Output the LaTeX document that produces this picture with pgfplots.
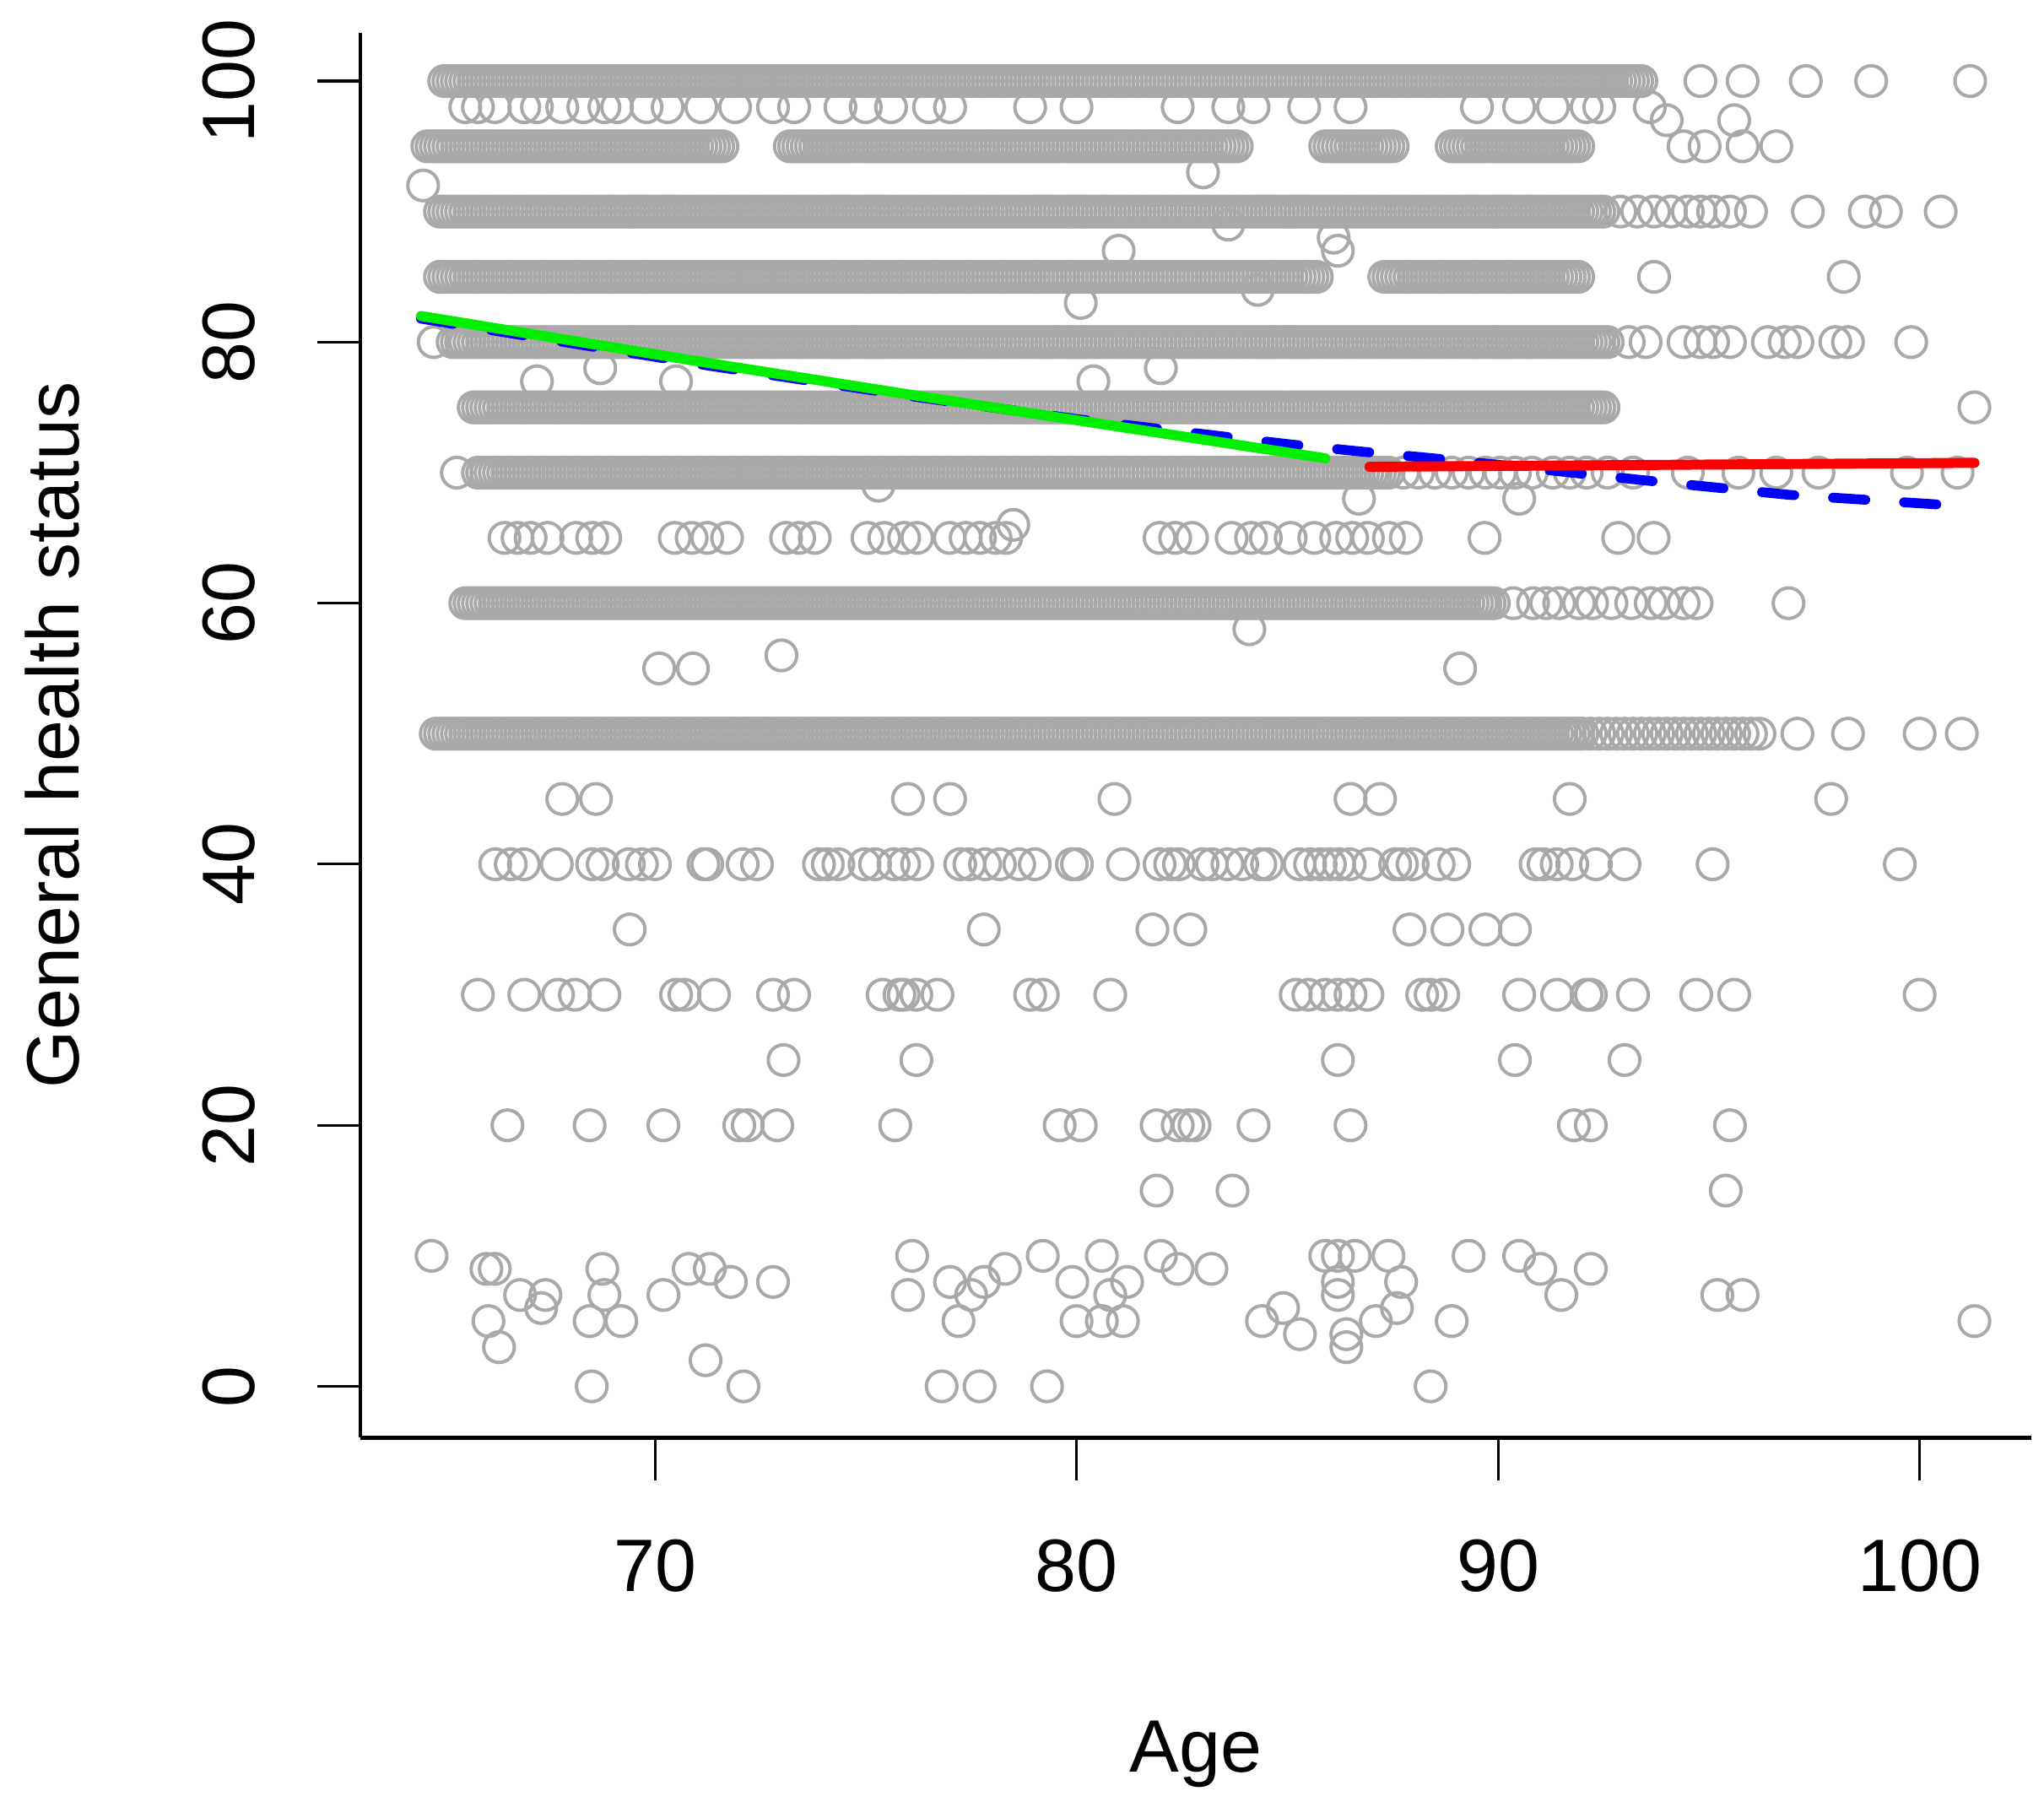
\documentclass[border=0pt]{standalone}
\usepackage{fontspec}
\setmainfont{Liberation Sans}
\usepackage{pgfplots}
\pgfplotsset{compat=1.18}
\definecolor{ptgray}{RGB}{169,169,169}
\definecolor{lgreen}{RGB}{0,240,0}
\begin{document}
\begin{tikzpicture}
\path[use as bounding box] (-82.5pt,-83.4pt) rectangle (385.5pt,329.1pt);
\begin{axis}[
  at={(0,0)}, anchor=south west,
  scale only axis, width=382.5pt, height=321.6pt,
  xmin=63.01, xmax=102.64, ymin=-3.92, ymax=103.7,
  clip marker paths=true,
  axis x line*=bottom, axis y line*=left,
  axis line style={line width=0.9pt, black},
  xtick={70,80,90,100}, ytick={0,20,40,60,80,100},
  tick align=outside, major tick length=9.9pt,
  tick style={line width=0.6pt, black},
  /pgf/number format/assume math mode=true,
  tick label style={font=\fontsize{17}{20}\selectfont},
  label style={font=\fontsize{17}{20}\selectfont},
  xticklabel style={anchor=base, yshift=-25.35pt},
  yticklabel style={rotate=90, anchor=base, yshift=14.25pt},
  xlabel={Age}, ylabel={General health status},
  xlabel style={at={(axis description cs:0.5,0)}, anchor=base, yshift=-76.5pt},
  ylabel style={at={(axis description cs:0,0.5)}, anchor=base, yshift=64.35pt},
  pts/.style={only marks, mark=o, mark size=3.5pt, color=ptgray, mark options={line width=0.77pt}},
]
% row 100
\addplot[pts] coordinates {
(65.0,100)(65.1,100)(65.2,100)(65.3,100)(65.4,100)(65.5,100)(65.6,100)(65.7,100)(65.8,100)(65.9,100)
(66.0,100)(66.1,100)(66.2,100)(66.3,100)(66.4,100)(66.5,100)(66.6,100)(66.7,100)(66.8,100)(66.9,100)
(67.0,100)(67.1,100)(67.2,100)(67.3,100)(67.4,100)(67.5,100)(67.6,100)(67.7,100)(67.8,100)(67.9,100)
(68.0,100)(68.1,100)(68.2,100)(68.3,100)(68.4,100)(68.5,100)(68.6,100)(68.7,100)(68.8,100)(68.9,100)
(69.0,100)(69.1,100)(69.2,100)(69.3,100)(69.4,100)(69.5,100)(69.6,100)(69.7,100)(69.8,100)(69.9,100)
(70.0,100)(70.1,100)(70.2,100)(70.3,100)(70.4,100)(70.5,100)(70.6,100)(70.7,100)(70.8,100)(70.9,100)
(71.0,100)(71.1,100)(71.2,100)(71.3,100)(71.4,100)(71.5,100)(71.6,100)(71.7,100)(71.8,100)(71.9,100)
(72.0,100)(72.1,100)(72.2,100)(72.3,100)(72.4,100)(72.5,100)(72.6,100)(72.7,100)(72.8,100)(72.9,100)
(73.0,100)(73.1,100)(73.2,100)(73.3,100)(73.4,100)(73.5,100)(73.6,100)(73.7,100)(73.8,100)(73.9,100)
(74.0,100)(74.1,100)(74.2,100)(74.3,100)(74.4,100)(74.5,100)(74.6,100)(74.7,100)(74.8,100)(74.9,100)
(75.0,100)(75.1,100)(75.2,100)(75.3,100)(75.4,100)(75.5,100)(75.6,100)(75.7,100)(75.8,100)(75.9,100)
(76.0,100)(76.1,100)(76.2,100)(76.3,100)(76.4,100)(76.5,100)(76.6,100)(76.7,100)(76.8,100)(76.9,100)
(77.0,100)(77.1,100)(77.2,100)(77.3,100)(77.4,100)(77.5,100)(77.6,100)(77.7,100)(77.8,100)(77.9,100)
(78.0,100)(78.1,100)(78.2,100)(78.3,100)(78.4,100)(78.5,100)(78.6,100)(78.7,100)(78.8,100)(78.9,100)
(79.0,100)(79.1,100)(79.2,100)(79.3,100)(79.4,100)(79.5,100)(79.6,100)(79.7,100)(79.8,100)(79.9,100)
(80.0,100)(80.1,100)(80.2,100)(80.3,100)(80.4,100)(80.5,100)(80.6,100)(80.7,100)(80.8,100)(80.9,100)
(81.0,100)(81.1,100)(81.2,100)(81.3,100)(81.4,100)(81.5,100)(81.6,100)(81.7,100)(81.8,100)(81.9,100)
(82.0,100)(82.1,100)(82.2,100)(82.3,100)(82.4,100)(82.5,100)(82.6,100)(82.7,100)(82.8,100)(82.9,100)
(83.0,100)(83.1,100)(83.2,100)(83.3,100)(83.4,100)(83.5,100)(83.6,100)(83.7,100)(83.8,100)(83.9,100)
(84.0,100)(84.1,100)(84.2,100)(84.3,100)(84.4,100)(84.5,100)(84.6,100)(84.7,100)(84.8,100)(84.9,100)
(85.0,100)(85.1,100)(85.2,100)(85.3,100)(85.4,100)(85.5,100)(85.6,100)(85.7,100)(85.8,100)(85.9,100)
(86.0,100)(86.1,100)(86.2,100)(86.3,100)(86.4,100)(86.5,100)(86.6,100)(86.7,100)(86.8,100)(86.9,100)
(87.0,100)(87.1,100)(87.2,100)(87.3,100)(87.4,100)(87.5,100)(87.6,100)(87.7,100)(87.8,100)(87.9,100)
(88.0,100)(88.1,100)(88.2,100)(88.3,100)(88.4,100)(88.5,100)(88.6,100)(88.7,100)(88.8,100)(88.9,100)
(89.0,100)(89.1,100)(89.2,100)(89.3,100)(89.4,100)(89.5,100)(89.6,100)(89.7,100)(89.8,100)(89.9,100)
(90.0,100)(90.1,100)(90.2,100)(90.3,100)(90.4,100)(90.5,100)(90.6,100)(90.7,100)(90.8,100)(90.9,100)
(91.0,100)(91.1,100)(91.2,100)(91.3,100)(91.4,100)(91.5,100)(91.6,100)(91.7,100)(91.8,100)(91.9,100)
(92.0,100)(92.1,100)(92.2,100)(92.3,100)(92.4,100)(92.5,100)(92.6,100)(92.7,100)(92.8,100)(92.9,100)
(93.0,100)(93.1,100)(93.2,100)(93.3,100)(93.4,100)
(94.8,100)(95.8,100)(97.3,100)(98.85,100)(101.2,100)
(65.5,98)(65.8,98)(66.2,98)(66.9,98)(67.2,98)(67.8,98)(68.3,98)(68.8,98)(69.1,98)(69.8,98)
(70.3,98)(71.1,98)(71.9,98)(72.8,98)(73.3,98)(74.4,98)(75.0,98)(75.6,98)(76.5,98)(77.0,98)
(78.9,98)(80.0,98)(82.4,98)(83.6,98)(84.2,98)(85.4,98)(86.5,98)(89.5,98)(90.5,98)(91.3,98)
(92.1,98)(92.4,98)(93.6,98)(94.0,97)(95.6,97)
};
% row 95
\addplot[pts] coordinates {
(64.6,95)(64.7,95)(64.8,95)(64.9,95)
(65.0,95)(65.1,95)(65.2,95)(65.3,95)(65.4,95)(65.5,95)(65.6,95)(65.7,95)(65.8,95)(65.9,95)
(66.0,95)(66.1,95)(66.2,95)(66.3,95)(66.4,95)(66.5,95)(66.6,95)(66.7,95)(66.8,95)(66.9,95)
(67.0,95)(67.1,95)(67.2,95)(67.3,95)(67.4,95)(67.5,95)(67.6,95)(67.7,95)(67.8,95)(67.9,95)
(68.0,95)(68.1,95)(68.2,95)(68.3,95)(68.4,95)(68.5,95)(68.6,95)(68.7,95)(68.8,95)(68.9,95)
(69.0,95)(69.1,95)(69.2,95)(69.3,95)(69.4,95)(69.5,95)(69.6,95)(69.7,95)(69.8,95)(69.9,95)
(70.0,95)(70.1,95)(70.2,95)(70.3,95)(70.4,95)(70.5,95)(70.6,95)(70.7,95)(70.8,95)(70.9,95)
(71.0,95)(71.1,95)(71.2,95)(71.3,95)(71.4,95)(71.5,95)(71.6,95)
(73.2,95)(73.3,95)(73.4,95)(73.5,95)(73.6,95)(73.7,95)(73.8,95)(73.9,95)
(74.0,95)(74.1,95)(74.2,95)(74.3,95)(74.4,95)(74.5,95)(74.6,95)(74.7,95)(74.8,95)(74.9,95)
(75.0,95)(75.1,95)(75.2,95)(75.3,95)(75.4,95)(75.5,95)(75.6,95)(75.7,95)(75.8,95)(75.9,95)
(76.0,95)(76.1,95)(76.2,95)(76.3,95)(76.4,95)(76.5,95)(76.6,95)(76.7,95)(76.8,95)(76.9,95)
(77.0,95)(77.1,95)(77.2,95)(77.3,95)(77.4,95)(77.5,95)(77.6,95)(77.7,95)(77.8,95)(77.9,95)
(78.0,95)(78.1,95)(78.2,95)(78.3,95)(78.4,95)(78.5,95)(78.6,95)(78.7,95)(78.8,95)(78.9,95)
(79.0,95)(79.1,95)(79.2,95)(79.3,95)(79.4,95)(79.5,95)(79.6,95)(79.7,95)(79.8,95)(79.9,95)
(80.0,95)(80.1,95)(80.2,95)(80.3,95)(80.4,95)(80.5,95)(80.6,95)(80.7,95)(80.8,95)(80.9,95)
(81.0,95)(81.1,95)(81.2,95)(81.3,95)(81.4,95)(81.5,95)(81.6,95)(81.7,95)(81.8,95)(81.9,95)
(82.0,95)(82.1,95)(82.2,95)(82.3,95)(82.4,95)(82.5,95)(82.6,95)(82.7,95)(82.8,95)(82.9,95)
(83.0,95)(83.1,95)(83.2,95)(83.3,95)(83.4,95)(83.5,95)(83.6,95)(83.7,95)(83.8,95)
(85.9,95)(86.0,95)(86.1,95)(86.2,95)(86.3,95)(86.4,95)(86.5,95)(86.6,95)(86.7,95)(86.8,95)
(86.9,95)(87.0,95)(87.1,95)(87.2,95)(87.3,95)(87.4,95)(87.5,95)
(88.9,95)(89.0,95)(89.1,95)(89.2,95)(89.3,95)(89.4,95)(89.5,95)(89.6,95)(89.7,95)(89.8,95)
(89.9,95)(90.0,95)(90.1,95)(90.2,95)(90.3,95)(90.4,95)(90.5,95)(90.6,95)(90.7,95)(90.8,95)
(90.9,95)(91.0,95)(91.1,95)(91.2,95)(91.3,95)(91.4,95)(91.5,95)(91.6,95)(91.7,95)(91.8,95)(91.9,95)
(94.4,95)(94.9,95)(95.8,95)(96.6,95)
(83.0,93)(64.5,92)(83.6,89)(86.1,88)(86.2,87)(81.0,87)(84.3,84)(80.1,83)
};
% row 90
\addplot[pts] coordinates {
(64.9,90)
(65.0,90)(65.1,90)(65.2,90)(65.3,90)(65.4,90)(65.5,90)(65.6,90)(65.7,90)(65.8,90)(65.9,90)
(66.0,90)(66.1,90)(66.2,90)(66.3,90)(66.4,90)(66.5,90)(66.6,90)(66.7,90)(66.8,90)(66.9,90)
(67.0,90)(67.1,90)(67.2,90)(67.3,90)(67.4,90)(67.5,90)(67.6,90)(67.7,90)(67.8,90)(67.9,90)
(68.0,90)(68.1,90)(68.2,90)(68.3,90)(68.4,90)(68.5,90)(68.6,90)(68.7,90)(68.8,90)(68.9,90)
(69.0,90)(69.1,90)(69.2,90)(69.3,90)(69.4,90)(69.5,90)(69.6,90)(69.7,90)(69.8,90)(69.9,90)
(70.0,90)(70.1,90)(70.2,90)(70.3,90)(70.4,90)(70.5,90)(70.6,90)(70.7,90)(70.8,90)(70.9,90)
(71.0,90)(71.1,90)(71.2,90)(71.3,90)(71.4,90)(71.5,90)(71.6,90)(71.7,90)(71.8,90)(71.9,90)
(72.0,90)(72.1,90)(72.2,90)(72.3,90)(72.4,90)(72.5,90)(72.6,90)(72.7,90)(72.8,90)(72.9,90)
(73.0,90)(73.1,90)(73.2,90)(73.3,90)(73.4,90)(73.5,90)(73.6,90)(73.7,90)(73.8,90)(73.9,90)
(74.0,90)(74.1,90)(74.2,90)(74.3,90)(74.4,90)(74.5,90)(74.6,90)(74.7,90)(74.8,90)(74.9,90)
(75.0,90)(75.1,90)(75.2,90)(75.3,90)(75.4,90)(75.5,90)(75.6,90)(75.7,90)(75.8,90)(75.9,90)
(76.0,90)(76.1,90)(76.2,90)(76.3,90)(76.4,90)(76.5,90)(76.6,90)(76.7,90)(76.8,90)(76.9,90)
(77.0,90)(77.1,90)(77.2,90)(77.3,90)(77.4,90)(77.5,90)(77.6,90)(77.7,90)(77.8,90)(77.9,90)
(78.0,90)(78.1,90)(78.2,90)(78.3,90)(78.4,90)(78.5,90)(78.6,90)(78.7,90)(78.8,90)(78.9,90)
(79.0,90)(79.1,90)(79.2,90)(79.3,90)(79.4,90)(79.5,90)(79.6,90)(79.7,90)(79.8,90)(79.9,90)
(80.0,90)(80.1,90)(80.2,90)(80.3,90)(80.4,90)(80.5,90)(80.6,90)(80.7,90)(80.8,90)(80.9,90)
(81.0,90)(81.1,90)(81.2,90)(81.3,90)(81.4,90)(81.5,90)(81.6,90)(81.7,90)(81.8,90)(81.9,90)
(82.0,90)(82.1,90)(82.2,90)(82.3,90)(82.4,90)(82.5,90)(82.6,90)(82.7,90)(82.8,90)(82.9,90)
(83.0,90)(83.1,90)(83.2,90)(83.3,90)(83.4,90)(83.5,90)(83.6,90)(83.7,90)(83.8,90)(83.9,90)
(84.0,90)(84.1,90)(84.2,90)(84.3,90)(84.4,90)(84.5,90)(84.6,90)(84.7,90)(84.8,90)(84.9,90)
(85.0,90)(85.1,90)(85.2,90)(85.3,90)(85.4,90)(85.5,90)(85.6,90)(85.7,90)(85.8,90)(85.9,90)
(86.0,90)(86.1,90)(86.2,90)(86.3,90)(86.4,90)(86.5,90)(86.6,90)(86.7,90)(86.8,90)(86.9,90)
(87.0,90)(87.1,90)(87.2,90)(87.3,90)(87.4,90)(87.5,90)(87.6,90)(87.7,90)(87.8,90)(87.9,90)
(88.0,90)(88.1,90)(88.2,90)(88.3,90)(88.4,90)(88.5,90)(88.6,90)(88.7,90)(88.8,90)(88.9,90)
(89.0,90)(89.1,90)(89.2,90)(89.3,90)(89.4,90)(89.5,90)(89.6,90)(89.7,90)(89.8,90)(89.9,90)
(90.0,90)(90.1,90)(90.2,90)(90.3,90)(90.4,90)(90.5,90)(90.6,90)(90.7,90)(90.8,90)(90.9,90)
(91.0,90)(91.1,90)(91.2,90)(91.3,90)(91.4,90)(91.5,90)(91.6,90)(91.7,90)(91.8,90)(91.9,90)
(92.0,90)(92.1,90)(92.2,90)(92.3,90)(92.4,90)(92.5,90)
(92.9,90)(93.3,90)(93.7,90)(94.1,90)(94.5,90)(94.8,90)(95.1,90)(95.5,90)(96.0,90)
(97.35,90)(98.7,90)(99.2,90)(100.5,90)
};
% row 85
\addplot[pts] coordinates {
(64.9,85)
(65.0,85)(65.1,85)(65.2,85)(65.3,85)(65.4,85)(65.5,85)(65.6,85)(65.7,85)(65.8,85)(65.9,85)
(66.0,85)(66.1,85)(66.2,85)(66.3,85)(66.4,85)(66.5,85)(66.6,85)(66.7,85)(66.8,85)(66.9,85)
(67.0,85)(67.1,85)(67.2,85)(67.3,85)(67.4,85)(67.5,85)(67.6,85)(67.7,85)(67.8,85)(67.9,85)
(68.0,85)(68.1,85)(68.2,85)(68.3,85)(68.4,85)(68.5,85)(68.6,85)(68.7,85)(68.8,85)(68.9,85)
(69.0,85)(69.1,85)(69.2,85)(69.3,85)(69.4,85)(69.5,85)(69.6,85)(69.7,85)(69.8,85)(69.9,85)
(70.0,85)(70.1,85)(70.2,85)(70.3,85)(70.4,85)(70.5,85)(70.6,85)(70.7,85)(70.8,85)(70.9,85)
(71.0,85)(71.1,85)(71.2,85)(71.3,85)(71.4,85)(71.5,85)(71.6,85)(71.7,85)(71.8,85)(71.9,85)
(72.0,85)(72.1,85)(72.2,85)(72.3,85)(72.4,85)(72.5,85)(72.6,85)(72.7,85)(72.8,85)(72.9,85)
(73.0,85)(73.1,85)(73.2,85)(73.3,85)(73.4,85)(73.5,85)(73.6,85)(73.7,85)(73.8,85)(73.9,85)
(74.0,85)(74.1,85)(74.2,85)(74.3,85)(74.4,85)(74.5,85)(74.6,85)(74.7,85)(74.8,85)(74.9,85)
(75.0,85)(75.1,85)(75.2,85)(75.3,85)(75.4,85)(75.5,85)(75.6,85)(75.7,85)(75.8,85)(75.9,85)
(76.0,85)(76.1,85)(76.2,85)(76.3,85)(76.4,85)(76.5,85)(76.6,85)(76.7,85)(76.8,85)(76.9,85)
(77.0,85)(77.1,85)(77.2,85)(77.3,85)(77.4,85)(77.5,85)(77.6,85)(77.7,85)(77.8,85)(77.9,85)
(78.0,85)(78.1,85)(78.2,85)(78.3,85)(78.4,85)(78.5,85)(78.6,85)(78.7,85)(78.8,85)(78.9,85)
(79.0,85)(79.1,85)(79.2,85)(79.3,85)(79.4,85)(79.5,85)(79.6,85)(79.7,85)(79.8,85)(79.9,85)
(80.0,85)(80.1,85)(80.2,85)(80.3,85)(80.4,85)(80.5,85)(80.6,85)(80.7,85)(80.8,85)(80.9,85)
(81.0,85)(81.1,85)(81.2,85)(81.3,85)(81.4,85)(81.5,85)(81.6,85)(81.7,85)(81.8,85)(81.9,85)
(82.0,85)(82.1,85)(82.2,85)(82.3,85)(82.4,85)(82.5,85)(82.6,85)(82.7,85)(82.8,85)(82.9,85)
(83.0,85)(83.1,85)(83.2,85)(83.3,85)(83.4,85)(83.5,85)(83.6,85)(83.7,85)(83.8,85)(83.9,85)
(84.0,85)(84.1,85)(84.2,85)(84.3,85)(84.4,85)(84.5,85)(84.6,85)(84.7,85)(84.8,85)(84.9,85)
(85.0,85)(85.1,85)(85.2,85)(85.3,85)(85.4,85)(85.5,85)(85.6,85)(85.7,85)
(87.3,85)(87.4,85)(87.5,85)(87.6,85)(87.7,85)(87.8,85)(87.9,85)
(88.0,85)(88.1,85)(88.2,85)(88.3,85)(88.4,85)(88.5,85)(88.6,85)(88.7,85)(88.8,85)(88.9,85)
(89.0,85)(89.1,85)(89.2,85)(89.3,85)(89.4,85)(89.5,85)(89.6,85)(89.7,85)(89.8,85)(89.9,85)
(90.0,85)(90.1,85)(90.2,85)(90.3,85)(90.4,85)(90.5,85)(90.6,85)(90.7,85)(90.8,85)(90.9,85)
(91.0,85)(91.1,85)(91.2,85)(91.3,85)(91.4,85)(91.5,85)(91.6,85)(91.7,85)(91.8,85)(91.9,85)
(93.7,85)(98.2,85)
};
% row 80
\addplot[pts] coordinates {
(64.75,80)(65.2,80)(65.3,80)(65.4,80)(65.5,80)(65.6,80)(65.7,80)(65.8,80)(65.9,80)
(66.0,80)(66.1,80)(66.2,80)(66.3,80)(66.4,80)(66.5,80)(66.6,80)(66.7,80)(66.8,80)(66.9,80)
(67.0,80)(67.1,80)(67.2,80)(67.3,80)(67.4,80)(67.5,80)(67.6,80)(67.7,80)(67.8,80)(67.9,80)
(68.0,80)(68.1,80)(68.2,80)(68.3,80)(68.4,80)(68.5,80)(68.6,80)(68.7,80)(68.8,80)(68.9,80)
(69.0,80)(69.1,80)(69.2,80)(69.3,80)(69.4,80)(69.5,80)(69.6,80)(69.7,80)(69.8,80)(69.9,80)
(70.0,80)(70.1,80)(70.2,80)(70.3,80)(70.4,80)(70.5,80)(70.6,80)(70.7,80)(70.8,80)(70.9,80)
(71.0,80)(71.1,80)(71.2,80)(71.3,80)(71.4,80)(71.5,80)(71.6,80)(71.7,80)(71.8,80)(71.9,80)
(72.0,80)(72.1,80)(72.2,80)(72.3,80)(72.4,80)(72.5,80)(72.6,80)(72.7,80)(72.8,80)(72.9,80)
(73.0,80)(73.1,80)(73.2,80)(73.3,80)(73.4,80)(73.5,80)(73.6,80)(73.7,80)(73.8,80)(73.9,80)
(74.0,80)(74.1,80)(74.2,80)(74.3,80)(74.4,80)(74.5,80)(74.6,80)(74.7,80)(74.8,80)(74.9,80)
(75.0,80)(75.1,80)(75.2,80)(75.3,80)(75.4,80)(75.5,80)(75.6,80)(75.7,80)(75.8,80)(75.9,80)
(76.0,80)(76.1,80)(76.2,80)(76.3,80)(76.4,80)(76.5,80)(76.6,80)(76.7,80)(76.8,80)(76.9,80)
(77.0,80)(77.1,80)(77.2,80)(77.3,80)(77.4,80)(77.5,80)(77.6,80)(77.7,80)(77.8,80)(77.9,80)
(78.0,80)(78.1,80)(78.2,80)(78.3,80)(78.4,80)(78.5,80)(78.6,80)(78.7,80)(78.8,80)(78.9,80)
(79.0,80)(79.1,80)(79.2,80)(79.3,80)(79.4,80)(79.5,80)(79.6,80)(79.7,80)(79.8,80)(79.9,80)
(80.0,80)(80.1,80)(80.2,80)(80.3,80)(80.4,80)(80.5,80)(80.6,80)(80.7,80)(80.8,80)(80.9,80)
(81.0,80)(81.1,80)(81.2,80)(81.3,80)(81.4,80)(81.5,80)(81.6,80)(81.7,80)(81.8,80)(81.9,80)
(82.0,80)(82.1,80)(82.2,80)(82.3,80)(82.4,80)(82.5,80)(82.6,80)(82.7,80)(82.8,80)(82.9,80)
(83.0,80)(83.1,80)(83.2,80)(83.3,80)(83.4,80)(83.5,80)(83.6,80)(83.7,80)(83.8,80)(83.9,80)
(84.0,80)(84.1,80)(84.2,80)(84.3,80)(84.4,80)(84.5,80)(84.6,80)(84.7,80)(84.8,80)(84.9,80)
(85.0,80)(85.1,80)(85.2,80)(85.3,80)(85.4,80)(85.5,80)(85.6,80)(85.7,80)(85.8,80)(85.9,80)
(86.0,80)(86.1,80)(86.2,80)(86.3,80)(86.4,80)(86.5,80)(86.6,80)(86.7,80)(86.8,80)(86.9,80)
(87.0,80)(87.1,80)(87.2,80)(87.3,80)(87.4,80)(87.5,80)(87.6,80)(87.7,80)(87.8,80)(87.9,80)
(88.0,80)(88.1,80)(88.2,80)(88.3,80)(88.4,80)(88.5,80)(88.6,80)(88.7,80)(88.8,80)(88.9,80)
(89.0,80)(89.1,80)(89.2,80)(89.3,80)(89.4,80)(89.5,80)(89.6,80)(89.7,80)(89.8,80)(89.9,80)
(90.0,80)(90.1,80)(90.2,80)(90.3,80)(90.4,80)(90.5,80)(90.6,80)(90.7,80)(90.8,80)(90.9,80)
(91.0,80)(91.1,80)(91.2,80)(91.3,80)(91.4,80)(91.5,80)(91.6,80)(91.7,80)(91.8,80)(91.9,80)
(92.0,80)(92.1,80)(92.2,80)(92.3,80)(92.4,80)(92.5,80)(92.6,80)
(93.1,80)(93.5,80)(94.4,80)(94.8,80)(95.1,80)(95.5,80)(96.4,80)(96.8,80)(97.1,80)(98.0,80)(98.3,80)(99.8,80)
(68.7,78)(82.0,78)(67.2,77)(70.5,77)(80.4,77)
};
% row 75
\addplot[pts] coordinates {
(65.7,75)(65.8,75)(65.9,75)
(66.0,75)(66.1,75)(66.2,75)(66.3,75)(66.4,75)(66.5,75)(66.6,75)(66.7,75)(66.8,75)(66.9,75)
(67.0,75)(67.1,75)(67.2,75)(67.3,75)(67.4,75)(67.5,75)(67.6,75)(67.7,75)(67.8,75)(67.9,75)
(68.0,75)(68.1,75)(68.2,75)(68.3,75)(68.4,75)(68.5,75)(68.6,75)(68.7,75)(68.8,75)(68.9,75)
(69.0,75)(69.1,75)(69.2,75)(69.3,75)(69.4,75)(69.5,75)(69.6,75)(69.7,75)(69.8,75)(69.9,75)
(70.0,75)(70.1,75)(70.2,75)(70.3,75)(70.4,75)(70.5,75)(70.6,75)(70.7,75)(70.8,75)(70.9,75)
(71.0,75)(71.1,75)(71.2,75)(71.3,75)(71.4,75)(71.5,75)(71.6,75)(71.7,75)(71.8,75)(71.9,75)
(72.0,75)(72.1,75)(72.2,75)(72.3,75)(72.4,75)(72.5,75)(72.6,75)(72.7,75)(72.8,75)(72.9,75)
(73.0,75)(73.1,75)(73.2,75)(73.3,75)(73.4,75)(73.5,75)(73.6,75)(73.7,75)(73.8,75)(73.9,75)
(74.0,75)(74.1,75)(74.2,75)(74.3,75)(74.4,75)(74.5,75)(74.6,75)(74.7,75)(74.8,75)(74.9,75)
(75.0,75)(75.1,75)(75.2,75)(75.3,75)(75.4,75)(75.5,75)(75.6,75)(75.7,75)(75.8,75)(75.9,75)
(76.0,75)(76.1,75)(76.2,75)(76.3,75)(76.4,75)(76.5,75)(76.6,75)(76.7,75)(76.8,75)(76.9,75)
(77.0,75)(77.1,75)(77.2,75)(77.3,75)(77.4,75)(77.5,75)(77.6,75)(77.7,75)(77.8,75)(77.9,75)
(78.0,75)(78.1,75)(78.2,75)(78.3,75)(78.4,75)(78.5,75)(78.6,75)(78.7,75)(78.8,75)(78.9,75)
(79.0,75)(79.1,75)(79.2,75)(79.3,75)(79.4,75)(79.5,75)(79.6,75)(79.7,75)(79.8,75)(79.9,75)
(80.0,75)(80.1,75)(80.2,75)(80.3,75)(80.4,75)(80.5,75)(80.6,75)(80.7,75)(80.8,75)(80.9,75)
(81.0,75)(81.1,75)(81.2,75)(81.3,75)(81.4,75)(81.5,75)(81.6,75)(81.7,75)(81.8,75)(81.9,75)
(82.0,75)(82.1,75)(82.2,75)(82.3,75)(82.4,75)(82.5,75)(82.6,75)(82.7,75)(82.8,75)(82.9,75)
(83.0,75)(83.1,75)(83.2,75)(83.3,75)(83.4,75)(83.5,75)(83.6,75)(83.7,75)(83.8,75)(83.9,75)
(84.0,75)(84.1,75)(84.2,75)(84.3,75)(84.4,75)(84.5,75)(84.6,75)(84.7,75)(84.8,75)(84.9,75)
(85.0,75)(85.1,75)(85.2,75)(85.3,75)(85.4,75)(85.5,75)(85.6,75)(85.7,75)(85.8,75)(85.9,75)
(86.0,75)(86.1,75)(86.2,75)(86.3,75)(86.4,75)(86.5,75)(86.6,75)(86.7,75)(86.8,75)(86.9,75)
(87.0,75)(87.1,75)(87.2,75)(87.3,75)(87.4,75)(87.5,75)(87.6,75)(87.7,75)(87.8,75)(87.9,75)
(88.0,75)(88.1,75)(88.2,75)(88.3,75)(88.4,75)(88.5,75)(88.6,75)(88.7,75)(88.8,75)(88.9,75)
(89.0,75)(89.1,75)(89.2,75)(89.3,75)(89.4,75)(89.5,75)(89.6,75)(89.7,75)(89.8,75)(89.9,75)
(90.0,75)(90.1,75)(90.2,75)(90.3,75)(90.4,75)(90.5,75)(90.6,75)(90.7,75)(90.8,75)(90.9,75)
(91.0,75)(91.1,75)(91.2,75)(91.3,75)(91.4,75)(91.5,75)(91.6,75)(91.7,75)(91.8,75)(91.9,75)
(92.0,75)(92.1,75)(92.2,75)(92.3,75)(92.4,75)(92.5,75)
(101.3,75)
};
% row 70
\addplot[pts] coordinates {
(65.3,70)(65.8,70)(65.9,70)
(66.0,70)(66.1,70)(66.2,70)(66.3,70)(66.4,70)(66.5,70)(66.6,70)(66.7,70)(66.8,70)(66.9,70)
(67.0,70)(67.1,70)(67.2,70)(67.3,70)(67.4,70)(67.5,70)(67.6,70)(67.7,70)(67.8,70)(67.9,70)
(68.0,70)(68.1,70)(68.2,70)(68.3,70)(68.4,70)(68.5,70)(68.6,70)(68.7,70)(68.8,70)(68.9,70)
(69.0,70)(69.1,70)(69.2,70)(69.3,70)(69.4,70)(69.5,70)(69.6,70)(69.7,70)(69.8,70)(69.9,70)
(70.0,70)(70.1,70)(70.2,70)(70.3,70)(70.4,70)(70.5,70)(70.6,70)(70.7,70)(70.8,70)(70.9,70)
(71.0,70)(71.1,70)(71.2,70)(71.3,70)(71.4,70)(71.5,70)(71.6,70)(71.7,70)(71.8,70)(71.9,70)
(72.0,70)(72.1,70)(72.2,70)(72.3,70)(72.4,70)(72.5,70)(72.6,70)(72.7,70)(72.8,70)(72.9,70)
(73.0,70)(73.1,70)(73.2,70)(73.3,70)(73.4,70)(73.5,70)(73.6,70)(73.7,70)(73.8,70)(73.9,70)
(74.0,70)(74.1,70)(74.2,70)(74.3,70)(74.4,70)(74.5,70)(74.6,70)(74.7,70)(74.8,70)(74.9,70)
(75.0,70)(75.1,70)(75.2,70)(75.3,70)(75.4,70)(75.5,70)(75.6,70)(75.7,70)(75.8,70)(75.9,70)
(76.0,70)(76.1,70)(76.2,70)(76.3,70)(76.4,70)(76.5,70)(76.6,70)(76.7,70)(76.8,70)(76.9,70)
(77.0,70)(77.1,70)(77.2,70)(77.3,70)(77.4,70)(77.5,70)(77.6,70)(77.7,70)(77.8,70)(77.9,70)
(78.0,70)(78.1,70)(78.2,70)(78.3,70)(78.4,70)(78.5,70)(78.6,70)(78.7,70)(78.8,70)(78.9,70)
(79.0,70)(79.1,70)(79.2,70)(79.3,70)(79.4,70)(79.5,70)(79.6,70)(79.7,70)(79.8,70)(79.9,70)
(80.0,70)(80.1,70)(80.2,70)(80.3,70)(80.4,70)(80.5,70)(80.6,70)(80.7,70)(80.8,70)(80.9,70)
(81.0,70)(81.1,70)(81.2,70)(81.3,70)(81.4,70)(81.5,70)(81.6,70)(81.7,70)(81.8,70)(81.9,70)
(82.0,70)(82.1,70)(82.2,70)(82.3,70)(82.4,70)(82.5,70)(82.6,70)(82.7,70)(82.8,70)(82.9,70)
(83.0,70)(83.1,70)(83.2,70)(83.3,70)(83.4,70)(83.5,70)(83.6,70)(83.7,70)(83.8,70)(83.9,70)
(84.0,70)(84.1,70)(84.2,70)(84.3,70)(84.4,70)(84.5,70)(84.6,70)(84.7,70)(84.8,70)(84.9,70)
(85.0,70)(85.1,70)(85.2,70)(85.3,70)(85.4,70)(85.5,70)(85.6,70)(85.7,70)(85.8,70)(85.9,70)
(86.0,70)(86.1,70)(86.2,70)(86.3,70)(86.4,70)(86.5,70)(86.6,70)(86.7,70)(86.8,70)(86.9,70)
(87.0,70)(87.1,70)(87.2,70)(87.3,70)(87.4,70)
(87.75,70)(88.1,70)(88.5,70)(88.9,70)(89.3,70)(89.7,70)(90.05,70)(90.4,70)(90.8,70)(91.3,70)
(91.7,70)(92.1,70)(92.6,70)(93.2,70)(94.5,70)(95.7,70)(96.6,70)(97.6,70)(99.7,70)(100.9,70)
(75.3,69)(86.7,68)(90.5,68)(78.5,66)
(66.43,65)(66.74,65)(67.05,65)(67.45,65)(68.13,65)(68.51,65)(68.82,65)(70.47,65)(70.87,65)(71.24,65)
(71.71,65)(73.11,65)(73.42,65)(73.79,65)(75.04,65)(75.44,65)(75.91,65)(76.22,65)(76.99,65)(77.37,65)
(77.71,65)(78.08,65)(78.33,65)(81.97,65)(82.34,65)(82.74,65)(83.68,65)(84.14,65)(84.49,65)(85.08,65)
(85.64,65)(86.16,65)(86.54,65)(86.91,65)(87.41,65)(87.81,65)(89.68,65)(92.85,65)(93.69,65)
};
% row 60
\addplot[pts] coordinates {
(65.5,60)(65.6,60)(65.7,60)(65.8,60)(65.9,60)
(66.0,60)(66.1,60)(66.2,60)(66.3,60)(66.4,60)(66.5,60)(66.6,60)(66.7,60)(66.8,60)(66.9,60)
(67.0,60)(67.1,60)(67.2,60)(67.3,60)(67.4,60)(67.5,60)(67.6,60)(67.7,60)(67.8,60)(67.9,60)
(68.0,60)(68.1,60)(68.2,60)(68.3,60)(68.4,60)(68.5,60)(68.6,60)(68.7,60)(68.8,60)(68.9,60)
(69.0,60)(69.1,60)(69.2,60)(69.3,60)(69.4,60)(69.5,60)(69.6,60)(69.7,60)(69.8,60)(69.9,60)
(70.0,60)(70.1,60)(70.2,60)(70.3,60)(70.4,60)(70.5,60)(70.6,60)(70.7,60)(70.8,60)(70.9,60)
(71.0,60)(71.1,60)(71.2,60)(71.3,60)(71.4,60)(71.5,60)(71.6,60)(71.7,60)(71.8,60)(71.9,60)
(72.0,60)(72.1,60)(72.2,60)(72.3,60)(72.4,60)(72.5,60)(72.6,60)(72.7,60)(72.8,60)(72.9,60)
(73.0,60)(73.1,60)(73.2,60)(73.3,60)(73.4,60)(73.5,60)(73.6,60)(73.7,60)(73.8,60)(73.9,60)
(74.0,60)(74.1,60)(74.2,60)(74.3,60)(74.4,60)(74.5,60)(74.6,60)(74.7,60)(74.8,60)(74.9,60)
(75.0,60)(75.1,60)(75.2,60)(75.3,60)(75.4,60)(75.5,60)(75.6,60)(75.7,60)(75.8,60)(75.9,60)
(76.0,60)(76.1,60)(76.2,60)(76.3,60)(76.4,60)(76.5,60)(76.6,60)(76.7,60)(76.8,60)(76.9,60)
(77.0,60)(77.1,60)(77.2,60)(77.3,60)(77.4,60)(77.5,60)(77.6,60)(77.7,60)(77.8,60)(77.9,60)
(78.0,60)(78.1,60)(78.2,60)(78.3,60)(78.4,60)(78.5,60)(78.6,60)(78.7,60)(78.8,60)(78.9,60)
(79.0,60)(79.1,60)(79.2,60)(79.3,60)(79.4,60)(79.5,60)(79.6,60)(79.7,60)(79.8,60)(79.9,60)
(80.0,60)(80.1,60)(80.2,60)(80.3,60)(80.4,60)(80.5,60)(80.6,60)(80.7,60)(80.8,60)(80.9,60)
(81.0,60)(81.1,60)(81.2,60)(81.3,60)(81.4,60)(81.5,60)(81.6,60)(81.7,60)(81.8,60)(81.9,60)
(82.0,60)(82.1,60)(82.2,60)(82.3,60)(82.4,60)(82.5,60)(82.6,60)(82.7,60)(82.8,60)(82.9,60)
(83.0,60)(83.1,60)(83.2,60)(83.3,60)(83.4,60)(83.5,60)(83.6,60)(83.7,60)(83.8,60)(83.9,60)
(84.0,60)(84.1,60)(84.2,60)(84.3,60)(84.4,60)(84.5,60)(84.6,60)(84.7,60)(84.8,60)(84.9,60)
(85.0,60)(85.1,60)(85.2,60)(85.3,60)(85.4,60)(85.5,60)(85.6,60)(85.7,60)(85.8,60)(85.9,60)
(86.0,60)(86.1,60)(86.2,60)(86.3,60)(86.4,60)(86.5,60)(86.6,60)(86.7,60)(86.8,60)(86.9,60)
(87.0,60)(87.1,60)(87.2,60)(87.3,60)(87.4,60)(87.5,60)(87.6,60)(87.7,60)(87.8,60)(87.9,60)
(88.0,60)(88.1,60)(88.2,60)(88.3,60)(88.4,60)(88.5,60)(88.6,60)(88.7,60)(88.8,60)(88.9,60)
(89.0,60)(89.1,60)(89.2,60)(89.3,60)(89.4,60)(89.5,60)(89.6,60)(89.7,60)(89.8,60)(89.9,60)
(90.36,60)(90.83,60)(91.14,60)(91.45,60)(91.92,60)(92.23,60)(92.69,60)(93.16,60)(93.62,60)(93.94,60)
(94.40,60)(94.71,60)(96.89,60)
(84.1,58)(73.0,56)(70.1,55)(70.9,55)(89.1,55)
};
% row 50
\addplot[pts] coordinates {
(64.8,50)(64.9,50)
(65.0,50)(65.1,50)(65.2,50)(65.3,50)(65.4,50)(65.5,50)(65.6,50)(65.7,50)(65.8,50)(65.9,50)
(66.0,50)(66.1,50)(66.2,50)(66.3,50)(66.4,50)(66.5,50)(66.6,50)(66.7,50)(66.8,50)(66.9,50)
(67.0,50)(67.1,50)(67.2,50)(67.3,50)(67.4,50)(67.5,50)(67.6,50)(67.7,50)(67.8,50)(67.9,50)
(68.0,50)(68.1,50)(68.2,50)(68.3,50)(68.4,50)(68.5,50)(68.6,50)(68.7,50)(68.8,50)(68.9,50)
(69.0,50)(69.1,50)(69.2,50)(69.3,50)(69.4,50)(69.5,50)(69.6,50)(69.7,50)(69.8,50)(69.9,50)
(70.0,50)(70.1,50)(70.2,50)(70.3,50)(70.4,50)(70.5,50)(70.6,50)(70.7,50)(70.8,50)(70.9,50)
(71.0,50)(71.1,50)(71.2,50)(71.3,50)(71.4,50)(71.5,50)(71.6,50)(71.7,50)(71.8,50)(71.9,50)
(72.0,50)(72.1,50)(72.2,50)(72.3,50)(72.4,50)(72.5,50)(72.6,50)(72.7,50)(72.8,50)(72.9,50)
(73.0,50)(73.1,50)(73.2,50)(73.3,50)(73.4,50)(73.5,50)(73.6,50)(73.7,50)(73.8,50)(73.9,50)
(74.0,50)(74.1,50)(74.2,50)(74.3,50)(74.4,50)(74.5,50)(74.6,50)(74.7,50)(74.8,50)(74.9,50)
(75.0,50)(75.1,50)(75.2,50)(75.3,50)(75.4,50)(75.5,50)(75.6,50)(75.7,50)(75.8,50)(75.9,50)
(76.0,50)(76.1,50)(76.2,50)(76.3,50)(76.4,50)(76.5,50)(76.6,50)(76.7,50)(76.8,50)(76.9,50)
(77.0,50)(77.1,50)(77.2,50)(77.3,50)(77.4,50)(77.5,50)(77.6,50)(77.7,50)(77.8,50)(77.9,50)
(78.0,50)(78.1,50)(78.2,50)(78.3,50)(78.4,50)(78.5,50)(78.6,50)(78.7,50)(78.8,50)(78.9,50)
(79.0,50)(79.1,50)(79.2,50)(79.3,50)(79.4,50)(79.5,50)(79.6,50)(79.7,50)(79.8,50)(79.9,50)
(80.0,50)(80.1,50)(80.2,50)(80.3,50)(80.4,50)(80.5,50)(80.6,50)(80.7,50)(80.8,50)(80.9,50)
(81.0,50)(81.1,50)(81.2,50)(81.3,50)(81.4,50)(81.5,50)(81.6,50)(81.7,50)(81.8,50)(81.9,50)
(82.0,50)(82.1,50)(82.2,50)(82.3,50)(82.4,50)(82.5,50)(82.6,50)(82.7,50)(82.8,50)(82.9,50)
(83.0,50)(83.1,50)(83.2,50)(83.3,50)(83.4,50)(83.5,50)(83.6,50)(83.7,50)(83.8,50)(83.9,50)
(84.0,50)(84.1,50)(84.2,50)(84.3,50)(84.4,50)(84.5,50)(84.6,50)(84.7,50)(84.8,50)(84.9,50)
(85.0,50)(85.1,50)(85.2,50)(85.3,50)(85.4,50)(85.5,50)(85.6,50)(85.7,50)(85.8,50)(85.9,50)
(86.0,50)(86.1,50)(86.2,50)(86.3,50)(86.4,50)(86.5,50)(86.6,50)(86.7,50)(86.8,50)(86.9,50)
(87.0,50)(87.1,50)(87.2,50)(87.3,50)(87.4,50)(87.5,50)(87.6,50)(87.7,50)(87.8,50)(87.9,50)
(88.0,50)(88.1,50)(88.2,50)(88.3,50)(88.4,50)(88.5,50)(88.6,50)(88.7,50)(88.8,50)(88.9,50)
(89.0,50)(89.1,50)(89.2,50)(89.3,50)(89.4,50)(89.5,50)(89.6,50)(89.7,50)(89.8,50)(89.9,50)
(90.0,50)(90.1,50)(90.2,50)(90.3,50)(90.4,50)(90.5,50)(90.6,50)(90.7,50)(90.8,50)(90.9,50)
(91.0,50)(91.1,50)(91.2,50)(91.3,50)(91.4,50)(91.5,50)(91.6,50)(91.7,50)(91.8,50)(91.9,50)
(92.0,50)(92.2,50)(92.4,50)(92.6,50)(92.8,50)(93.0,50)(93.2,50)(93.4,50)(93.6,50)(93.8,50)
(94.0,50)(94.2,50)(94.4,50)(94.6,50)(94.8,50)(95.0,50)(95.2,50)(95.4,50)(95.6,50)(95.8,50)
(96.0,50)(96.2,50)
(97.1,50)(98.3,50)(100.0,50)(101.0,50)
};
% sparse rows below 50
\addplot[pts] coordinates {
(67.8,45)(68.6,45)(76.0,45)(77.0,45)(80.9,45)(86.5,45)(87.2,45)(91.7,45)(97.9,45)
(66.21,40)(66.58,40)(66.89,40)(67.67,40)(68.51,40)(68.76,40)(69.38,40)(69.69,40)(70.0,40)(71.15,40)
(71.24,40)(72.08,40)(72.42,40)(73.89,40)(74.10,40)(74.35,40)(74.97,40)(75.22,40)(75.66,40)(75.91,40)
(76.22,40)(77.24,40)(77.46,40)(77.83,40)(78.18,40)(78.64,40)(79.01,40)(79.89,40)(80.01,40)(81.10,40)
(81.97,40)(82.22,40)(82.43,40)(82.99,40)(83.21,40)(83.58,40)(83.93,40)(84.36,40)(84.52,40)(85.29,40)
(85.54,40)(85.79,40)(86.01,40)(86.23,40)(86.48,40)(86.94,40)(87.56,40)(87.72,40)(87.97,40)(88.59,40)
(88.96,40)(90.89,40)(91.08,40)(91.39,40)(91.76,40)(92.32,40)(93.0,40)(95.09,40)(99.53,40)
(69.4,35)(77.8,35)(81.8,35)(82.7,35)(87.9,35)(88.8,35)(89.7,35)(90.4,35)
(65.8,30)(66.9,30)(67.7,30)(68.1,30)(68.8,30)(70.5,30)(70.7,30)(71.4,30)(72.8,30)(73.3,30)
(75.4,30)(75.8,30)(75.9,30)(76.2,30)(76.7,30)(78.9,30)(79.2,30)(80.8,30)(85.2,30)(85.5,30)
(85.9,30)(86.2,30)(86.5,30)(86.9,30)(88.2,30)(88.4,30)(88.7,30)(90.5,30)(91.4,30)(92.1,30)
(92.2,30)(93.2,30)(94.7,30)(95.6,30)(100.0,30)
(73.05,25)(76.2,25)(86.2,25)(90.4,25)(93.0,25)
(66.5,20)(68.45,20)(70.2,20)(72.0,20)(72.2,20)(72.9,20)(75.7,20)(79.6,20)(80.1,20)(81.9,20)
(82.4,20)(82.65,20)(82.8,20)(84.2,20)(86.5,20)(91.8,20)(92.2,20)(95.5,20)
(81.9,15)(83.7,15)(95.4,15)
(64.7,10)(76.1,10)(79.2,10)(80.6,10)(82.0,10)(85.9,10)(86.2,10)(86.6,10)(87.4,10)(89.3,10)(90.5,10)
(66.0,9)(66.2,9)(68.75,9)(70.8,9)(71.3,9)(78.3,9)(82.4,9)(83.2,9)(91.0,9)(92.2,9)
(71.8,8)(72.8,8)(77.0,8)(77.8,8)(79.9,8)(81.2,8)(86.2,8)(87.7,8)
(66.8,7)(67.4,7)(68.8,7)(70.2,7)(76.0,7)(77.5,7)(80.8,7)(86.2,7)(91.5,7)(95.2,7)(95.8,7)
(67.3,6)(84.9,6)(87.6,6)
(66.05,5)(68.45,5)(69.2,5)(77.2,5)(80.0,5)(80.6,5)(81.1,5)(84.4,5)(87.1,5)(88.9,5)(101.3,5)
(85.3,4)(86.4,4)(66.3,3)(86.4,3)(71.2,2)
(68.5,0)(72.1,0)(76.8,0)(77.7,0)(79.3,0)(88.4,0)
};
\addplot[blue, line width=2.25pt, line cap=round, dash pattern=on 7.4pt off 8.9pt] coordinates {
(64.45,81.8)(71.27,78.2)(76.2,75.8)(80,74.1)(85.1,72.15)(86.8,71.6)(88.45,71.1)(90,70.6)(93.5,69.4)(96.9,68.3)(101.2,67.4)
};
\addplot[lgreen, line width=2.3pt, line cap=round] coordinates {
(64.45,82.0)(71.27,78.4)(76.2,75.9)(85.9,71.1)
};
\addplot[red, line width=2.3pt, line cap=round] coordinates {
(86.95,70.45)(101.3,70.75)
};
\end{axis}
\end{tikzpicture}
\end{document}
